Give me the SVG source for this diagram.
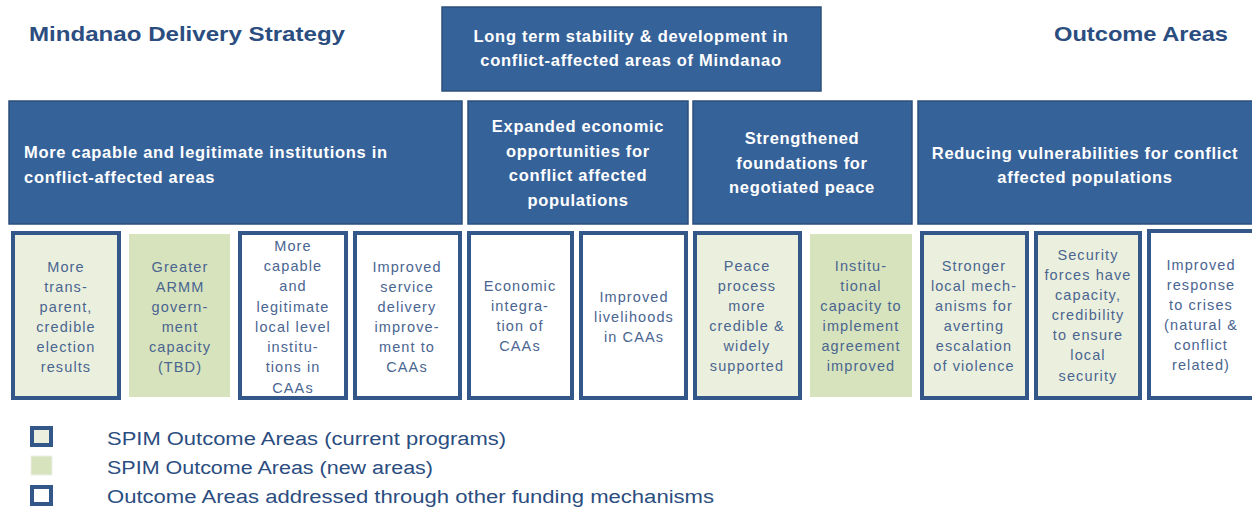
<svg xmlns="http://www.w3.org/2000/svg" width="1252" height="508" viewBox="0 0 1252 508">
<style>
.hd{fill:#36629a;stroke:#2c4f7c;stroke-width:1.5}
.ht{font-family:"Liberation Sans",Arial,sans-serif;font-weight:bold;font-size:16.5px;fill:#ffffff;letter-spacing:0.7px}
.title{font-family:"Liberation Sans",Arial,sans-serif;font-weight:bold;font-size:21px;fill:#2b4d80}
.cur{fill:#ebf0de;stroke:#34578a;stroke-width:4}
.new{fill:#d7e3bd;stroke:none}
.oth{fill:#ffffff;stroke:#34578a;stroke-width:4}
.ot{font-family:"Liberation Sans",Arial,sans-serif;font-size:14.5px;fill:#4a6590;text-anchor:middle;letter-spacing:1.1px}
.lg{font-family:"Liberation Sans",Arial,sans-serif;font-size:18px;fill:#2b4d80}
</style>
<rect width="1252" height="508" fill="#ffffff"/>
<text class="title" x="29" y="41" textLength="316" lengthAdjust="spacingAndGlyphs">Mindanao  Delivery Strategy</text>
<text class="title" x="1054" y="41" textLength="174" lengthAdjust="spacingAndGlyphs">Outcome Areas</text>

<g id="goal">
<rect class="hd" x="442" y="7" width="379" height="84"/>
<text class="ht" x="631" y="42" text-anchor="middle">Long term stability &amp; development in</text>
<text class="ht" x="631" y="66" text-anchor="middle">conflict-affected areas of Mindanao</text>
</g>

<g id="strategy-institutions">
<rect class="hd" x="9" y="101" width="453" height="123"/>
<text class="ht" x="24" y="158">More capable and legitimate institutions in</text>
<text class="ht" x="24" y="183">conflict-affected areas</text>
</g>
<g id="strategy-economic">
<rect class="hd" x="468" y="101" width="220" height="123"/>
<text class="ht" x="578" y="132" text-anchor="middle">Expanded economic</text>
<text class="ht" x="578" y="157" text-anchor="middle">opportunities for</text>
<text class="ht" x="578" y="181" text-anchor="middle">conflict affected</text>
<text class="ht" x="578" y="206" text-anchor="middle">populations</text>
</g>
<g id="strategy-peace">
<rect class="hd" x="693" y="101" width="219" height="123"/>
<text class="ht" x="802" y="144" text-anchor="middle">Strengthened</text>
<text class="ht" x="802" y="169" text-anchor="middle">foundations for</text>
<text class="ht" x="802" y="193" text-anchor="middle">negotiated peace</text>
</g>
<g id="strategy-vulnerabilities">
<rect class="hd" x="918" y="101" width="340" height="123"/>
<text class="ht" x="1085" y="159" text-anchor="middle">Reducing vulnerabilities for conflict</text>
<text class="ht" x="1085" y="183" text-anchor="middle">affected populations</text>
</g>

<g id="o1">
<rect class="cur" x="13" y="233" width="106" height="165"/>
<text class="ot" x="66" y="272">More</text>
<text class="ot" x="66" y="292">trans-</text>
<text class="ot" x="66" y="312">parent,</text>
<text class="ot" x="66" y="332">credible</text>
<text class="ot" x="66" y="352">election</text>
<text class="ot" x="66" y="372">results</text>
</g>
<g id="o2">
<rect class="new" x="129" y="234" width="101" height="163"/>
<text class="ot" x="180" y="272">Greater</text>
<text class="ot" x="180" y="292">ARMM</text>
<text class="ot" x="180" y="312">govern-</text>
<text class="ot" x="180" y="332">ment</text>
<text class="ot" x="180" y="352">capacity</text>
<text class="ot" x="180" y="372">(TBD)</text>
</g>
<g id="o3">
<rect class="oth" x="240" y="233" width="106" height="165"/>
<text class="ot" x="293" y="251">More</text>
<text class="ot" x="293" y="271">capable</text>
<text class="ot" x="293" y="291">and</text>
<text class="ot" x="293" y="312">legitimate</text>
<text class="ot" x="293" y="332">local level</text>
<text class="ot" x="293" y="352">institu-</text>
<text class="ot" x="293" y="372">tions in</text>
<text class="ot" x="293" y="393">CAAs</text>
</g>
<g id="o4">
<rect class="oth" x="355" y="233" width="105" height="165"/>
<text class="ot" x="407" y="272">Improved</text>
<text class="ot" x="407" y="292">service</text>
<text class="ot" x="407" y="312">delivery</text>
<text class="ot" x="407" y="332">improve-</text>
<text class="ot" x="407" y="352">ment to</text>
<text class="ot" x="407" y="372">CAAs</text>
</g>
<g id="o5">
<rect class="oth" x="469" y="233" width="103" height="165"/>
<text class="ot" x="520" y="291">Economic</text>
<text class="ot" x="520" y="311">integra-</text>
<text class="ot" x="520" y="331">tion of</text>
<text class="ot" x="520" y="351">CAAs</text>
</g>
<g id="o6">
<rect class="oth" x="581" y="233" width="105" height="165"/>
<text class="ot" x="634" y="302">Improved</text>
<text class="ot" x="634" y="322">livelihoods</text>
<text class="ot" x="634" y="342">in CAAs</text>
</g>
<g id="o7">
<rect class="cur" x="695" y="233" width="105" height="165"/>
<text class="ot" x="747" y="271">Peace</text>
<text class="ot" x="747" y="291">process</text>
<text class="ot" x="747" y="311">more</text>
<text class="ot" x="747" y="331">credible &amp;</text>
<text class="ot" x="747" y="351">widely</text>
<text class="ot" x="747" y="371">supported</text>
</g>
<g id="o8">
<rect class="new" x="810" y="234" width="102" height="163"/>
<text class="ot" x="861" y="271">Institu-</text>
<text class="ot" x="861" y="291">tional</text>
<text class="ot" x="861" y="311">capacity to</text>
<text class="ot" x="861" y="331">implement</text>
<text class="ot" x="861" y="351">agreement</text>
<text class="ot" x="861" y="371">improved</text>
</g>
<g id="o9">
<rect class="cur" x="922" y="233" width="105" height="165"/>
<text class="ot" x="974" y="271">Stronger</text>
<text class="ot" x="974" y="291">local mech-</text>
<text class="ot" x="974" y="311">anisms for</text>
<text class="ot" x="974" y="331">averting</text>
<text class="ot" x="974" y="351">escalation</text>
<text class="ot" x="974" y="371">of violence</text>
</g>
<g id="o10">
<rect class="cur" x="1036" y="233" width="104" height="165"/>
<text class="ot" x="1088" y="260">Security</text>
<text class="ot" x="1088" y="280">forces have</text>
<text class="ot" x="1088" y="300">capacity,</text>
<text class="ot" x="1088" y="320">credibility</text>
<text class="ot" x="1088" y="340">to ensure</text>
<text class="ot" x="1088" y="360">local</text>
<text class="ot" x="1088" y="381">security</text>
</g>
<g id="o11">
<rect class="oth" x="1149" y="231" width="110" height="167"/>
<text class="ot" x="1201" y="270">Improved</text>
<text class="ot" x="1201" y="290">response</text>
<text class="ot" x="1201" y="310">to crises</text>
<text class="ot" x="1201" y="330">(natural &amp;</text>
<text class="ot" x="1201" y="350">conflict</text>
<text class="ot" x="1201" y="370">related)</text>
</g>

<g id="legend">
<rect class="cur" x="32" y="428" width="19" height="17" stroke-width="3.5"/>
<text class="lg" x="107" y="445" textLength="399" lengthAdjust="spacingAndGlyphs">SPIM Outcome Areas (current programs)</text>
<rect x="31" y="456" width="21" height="19" fill="#d7e3bd" stroke="#eef0ea" stroke-width="1"/>
<text class="lg" x="107" y="474" textLength="326" lengthAdjust="spacingAndGlyphs">SPIM Outcome Areas (new areas)</text>
<rect class="oth" x="32" y="487" width="19" height="17" stroke-width="3.5"/>
<text class="lg" x="107" y="503" textLength="607" lengthAdjust="spacingAndGlyphs">Outcome Areas addressed through other funding mechanisms</text>
</g>
<g id="connectors"></g>
</svg>
